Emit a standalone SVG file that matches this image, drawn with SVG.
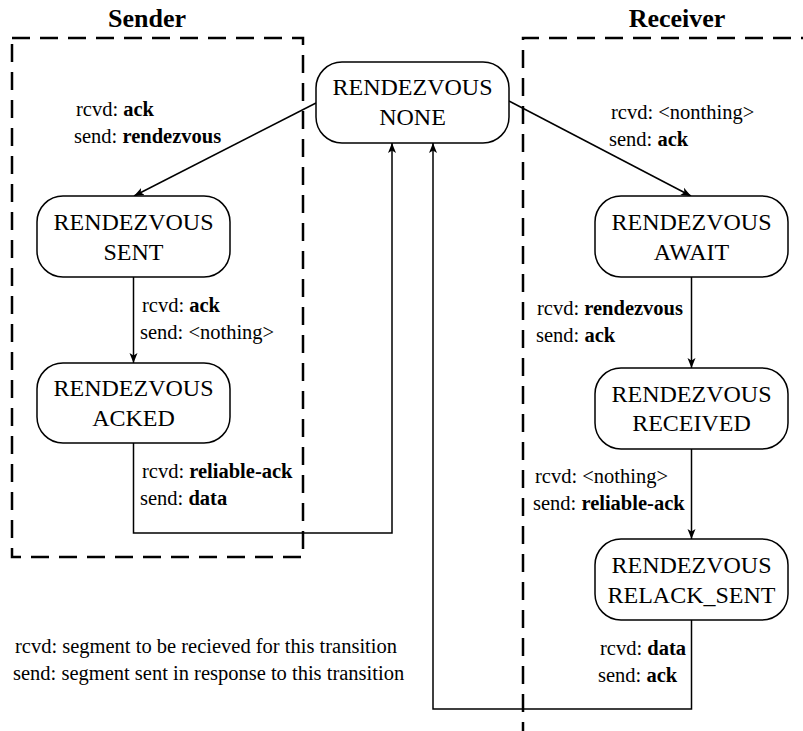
<svg xmlns="http://www.w3.org/2000/svg" width="803" height="731" viewBox="0 0 803 731">
  <style>
    .bg { fill: #ffffff; }
    .zone { fill: none; stroke: #000; stroke-width: 2.5; stroke-dasharray: 18 10; }
    .title { font-family: "Liberation Serif", "Times New Roman", serif; font-size: 26px; font-weight: bold; text-anchor: middle; fill: #000; }
    .state rect { fill: #fff; stroke: #000; stroke-width: 1.5; }
    .state text { font-family: "Liberation Serif", "Times New Roman", serif; font-size: 24px; text-anchor: middle; fill: #000; }
    .edge { fill: none; stroke: #000; stroke-width: 1.5; }
    .lbl { font-family: "Liberation Serif", "Times New Roman", serif; font-size: 20.5px; fill: #000; }
    .lbl tspan.b { font-weight: bold; }
  </style>
  <defs>
    <marker id="arrow" viewBox="0 0 10 10" refX="10" refY="5" markerWidth="10" markerHeight="10" markerUnits="userSpaceOnUse" orient="auto">
      <path d="M0,1 L10,5 L0,9 L2.5,5 Z" fill="#000"/>
    </marker>
  </defs>

  <rect class="bg" x="0" y="0" width="803" height="731"/>

  <!-- swimlane regions -->
  <g id="lanes">
    <rect class="zone" x="12" y="38" width="291" height="519"/>
    <path class="zone" d="M523,740 L523,38 L810,38"/>
    <text class="title" x="147" y="27">Sender</text>
    <text class="title" x="677" y="27">Receiver</text>
  </g>

  <!-- transitions -->
  <g id="connectors">
    <line class="edge" x1="316" y1="103" x2="134" y2="196" marker-end="url(#arrow)"/>
    <line class="edge" x1="509" y1="101" x2="691" y2="196" marker-end="url(#arrow)"/>
    <line class="edge" x1="133.5" y1="277" x2="133.5" y2="363" marker-end="url(#arrow)"/>
    <polyline class="edge" points="133.5,443 133.5,533 392,533 392,143" marker-end="url(#arrow)"/>
    <line class="edge" x1="691.5" y1="277" x2="691.5" y2="368" marker-end="url(#arrow)"/>
    <line class="edge" x1="691.5" y1="449" x2="691.5" y2="539" marker-end="url(#arrow)"/>
    <polyline class="edge" points="691.5,620 691.5,709 433,709 433,143" marker-end="url(#arrow)"/>
  </g>

  <!-- states -->
  <g id="state-none" class="state">
    <rect x="316" y="62" width="193" height="81" rx="26"/>
    <text x="412.5" y="95">RENDEZVOUS</text>
    <text x="412.5" y="125">NONE</text>
  </g>
  <g id="state-sent" class="state">
    <rect x="37" y="196" width="193" height="81" rx="26"/>
    <text x="133.5" y="230">RENDEZVOUS</text>
    <text x="133.5" y="260">SENT</text>
  </g>
  <g id="state-acked" class="state">
    <rect x="37" y="363" width="193" height="80" rx="26"/>
    <text x="133.5" y="396">RENDEZVOUS</text>
    <text x="133.5" y="426">ACKED</text>
  </g>
  <g id="state-await" class="state">
    <rect x="595" y="196" width="193" height="81" rx="26"/>
    <text x="691.5" y="230">RENDEZVOUS</text>
    <text x="691.5" y="260">AWAIT</text>
  </g>
  <g id="state-received" class="state">
    <rect x="595" y="368" width="193" height="81" rx="26"/>
    <text x="691.5" y="402">RENDEZVOUS</text>
    <text x="691.5" y="431">RECEIVED</text>
  </g>
  <g id="state-relack-sent" class="state">
    <rect x="595" y="539" width="193" height="81" rx="26"/>
    <text x="691.5" y="573">RENDEZVOUS</text>
    <text x="691.5" y="603">RELACK_SENT</text>
  </g>

  <!-- transition labels -->
  <g id="labels">
    <text class="lbl" x="76" y="116">rcvd: <tspan class="b">ack</tspan></text>
    <text class="lbl" x="74" y="143">send: <tspan class="b">rendezvous</tspan></text>

    <text class="lbl" x="611" y="119">rcvd: &lt;nonthing&gt;</text>
    <text class="lbl" x="609" y="146">send: <tspan class="b">ack</tspan></text>

    <text class="lbl" x="142" y="312">rcvd: <tspan class="b">ack</tspan></text>
    <text class="lbl" x="140" y="339">send: &lt;nothing&gt;</text>

    <text class="lbl" x="537" y="315">rcvd: <tspan class="b">rendezvous</tspan></text>
    <text class="lbl" x="536" y="342">send: <tspan class="b">ack</tspan></text>

    <text class="lbl" x="142" y="478">rcvd: <tspan class="b">reliable-ack</tspan></text>
    <text class="lbl" x="140" y="505">send: <tspan class="b">data</tspan></text>

    <text class="lbl" x="535" y="483">rcvd: &lt;nothing&gt;</text>
    <text class="lbl" x="533" y="510">send: <tspan class="b">reliable-ack</tspan></text>

    <text class="lbl" x="600" y="655">rcvd: <tspan class="b">data</tspan></text>
    <text class="lbl" x="598" y="682">send: <tspan class="b">ack</tspan></text>
  </g>

  <!-- legend -->
  <g id="legend">
    <text class="lbl" x="15" y="653">rcvd: segment to be recieved for this transition</text>
    <text class="lbl" x="13" y="680">send: segment sent in response to this transition</text>
  </g>
</svg>
